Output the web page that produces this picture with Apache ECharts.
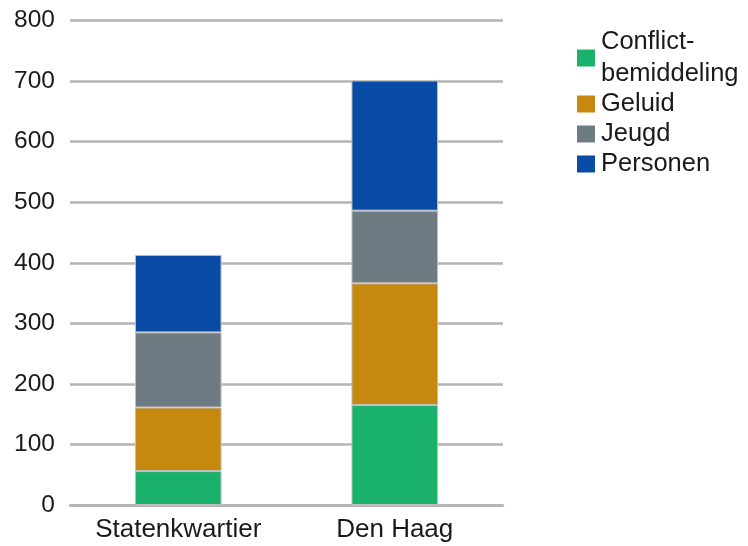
<!DOCTYPE html>
<html><head><meta charset="utf-8">
<script src="https://cdn.jsdelivr.net/npm/echarts@6/dist/echarts.min.js"></script>
<style>html,body{margin:0;padding:0;background:#fff}#c{width:748px;height:546px}</style>
</head><body><div id="c"></div>
<script>
const categories = ['Statenkwartier', 'Den Haag'];
const seriesNames = ['Conflict-\nbemiddeling', 'Geluid', 'Jeugd', 'Personen'];
const conflictbemiddeling = [56, 165];
const geluid = [105, 201];
const jeugd = [124, 120];
const personen = [128, 215];
const yTicks = [0, 100, 200, 300, 400, 500, 600, 700, 800];
const colors = ['#1AB26B', '#C6880F', '#6F7B82', '#0A4BA5'];
const values = [conflictbemiddeling, geluid, jeugd, personen];

const chart = echarts.init(document.getElementById('c'));
chart.setOption({
  animation: false,
  textStyle: { fontFamily: 'Liberation Sans, Arial, sans-serif' },
  grid: { left: 70, right: 245, top: 20.5, bottom: 41, containLabel: false },
  legend: {
    orient: 'vertical', left: 577, top: 26, padding: 0,
    itemWidth: 18, itemHeight: 17, itemGap: -2,
    icon: 'rect',
    itemStyle: { borderWidth: 0 },
    textStyle: { fontSize: 25.5, color: '#1a1a1a', lineHeight: 32, fontFamily: 'Liberation Sans, Arial, sans-serif', padding: [0, 0, 0, 1] },
    data: seriesNames
  },
  xAxis: {
    type: 'category', data: categories,
    axisLine: { show: true, lineStyle: { color: '#b4b4b4', width: 2.5 } },
    axisTick: { show: false },
    axisLabel: { fontSize: 26, color: '#1a1a1a', margin: 12 }
  },
  yAxis: {
    type: 'value', min: yTicks[0], max: yTicks[yTicks.length - 1], interval: 100,
    axisLine: { show: false }, axisTick: { show: false },
    splitLine: { lineStyle: { color: '#b4b4b4', width: 2.5 } },
    axisLabel: { fontSize: 24.5, color: '#1a1a1a', margin: 15 }
  },
  series: seriesNames.map((n, i) => ({
    name: n, type: 'bar', stack: 'total', data: values[i], barWidth: '40%',
    itemStyle: { color: colors[i], borderColor: '#c0c0c0', borderWidth: 1 }
  }))
});
</script></body></html>
